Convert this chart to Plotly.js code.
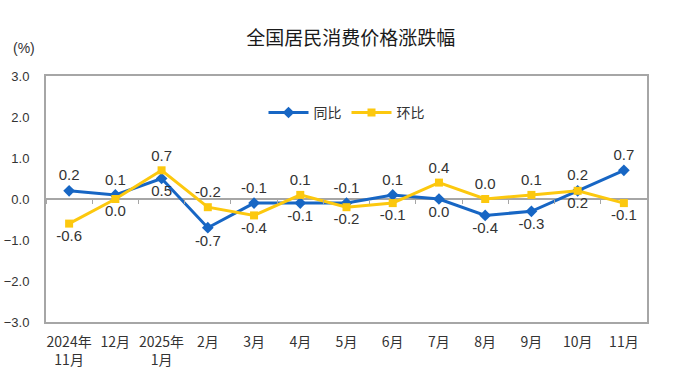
<!DOCTYPE html>
<html>
<head>
<meta charset="utf-8">
<script src="https://cdn.plot.ly/plotly-3.0.1.min.js"></script>
<style>body{margin:0;background:#fff}#chart{width:689px;height:389px}</style>
</head>
<body>
<div id="chart"></div>
<script>
const categories = ["2024年<br>11月","12月","2025年<br>1月","2月","3月","4月","5月","6月","7月","8月","9月","10月","11月"];
const yoy = [0.2, 0.1, 0.5, -0.7, -0.1, -0.1, -0.1, 0.1, 0.0, -0.4, -0.3, 0.2, 0.7];
const mom = [-0.6, 0.0, 0.7, -0.2, -0.4, 0.1, -0.2, -0.1, 0.4, 0.0, 0.1, 0.2, -0.1];
const yoyPos = ["top center","top center","bottom center","bottom center","top center","bottom center","top center","top center","bottom center","bottom center","bottom center","top center","top center"];
const momPos = ["bottom center","bottom center","top center","top center","bottom center","top center","bottom center","bottom center","top center","top center","top center","bottom center","bottom center"];
const yTicks = [-3, -2, -1, 0, 1, 2, 3];

const labelFont = {family: "Liberation Sans, Arial, sans-serif", size: 15, color: "#333"};
const traces = [
  {x: categories, y: yoy, name: "同比", type: "scatter", mode: "lines+markers+text",
   line: {color: "#1766c4", width: 3}, marker: {symbol: "diamond", size: 9, color: "#1766c4"},
   text: yoy.map(v => v.toFixed(1)), textposition: yoyPos, textfont: labelFont, cliponaxis: false},
  {x: categories, y: mom, name: "环比", type: "scatter", mode: "lines+markers+text",
   line: {color: "#fcc80e", width: 3}, marker: {symbol: "square", size: 8, color: "#fcc80e"},
   text: mom.map(v => v.toFixed(1)), textposition: momPos, textfont: labelFont, cliponaxis: false}
];
const layout = {
  width: 689, height: 389,
  margin: {l: 46, r: 42, t: 76, b: 67},
  paper_bgcolor: "#fff", plot_bgcolor: "#fff",
  title: {text: "全国居民消费价格涨跌幅", x: 0.509, xanchor: "center", y: 0.902, yanchor: "middle",
    font: {family: "Noto Sans CJK SC", size: 19, color: "#1a1a1a"}},
  showlegend: true,
  legend: {orientation: "h", x: 0.5, xanchor: "center", y: 0.85, yanchor: "middle",
    font: {family: "Noto Sans CJK SC", size: 14, color: "#333"}, bgcolor: "rgba(0,0,0,0)", itemwidth: 40},
  xaxis: {type: "category", range: [-0.5, 12.5], showgrid: false, zeroline: false,
    showline: true, linecolor: "#a6a6a6", linewidth: 2, mirror: true, ticks: "",
    ticklabelstandoff: 6,
    tickfont: {family: "Noto Sans CJK SC", size: 14, color: "#333"}, fixedrange: true},
  xaxis2: {type: "category", range: [-0.5, 12.5], overlaying: "x", anchor: "free", position: 0.5,
    matches: "x", showticklabels: false, showline: false, showgrid: false, zeroline: false,
    ticks: "outside", tickson: "boundaries", ticklen: 4, tickcolor: "#a6a6a6", side: "bottom"},
  yaxis: {range: [-3, 3], tickvals: yTicks, tickformat: ".1f", showgrid: false,
    zeroline: true, zerolinecolor: "#a6a6a6", zerolinewidth: 2,
    showline: true, linecolor: "#a6a6a6", linewidth: 2, mirror: true, ticks: "",
    ticklabelstandoff: 12,
    tickfont: {family: "Liberation Sans, Arial, sans-serif", size: 13, color: "#333"}, fixedrange: true},
  annotations: [{text: "(%)", xref: "paper", yref: "paper", x: -0.037, y: 1.114, xanchor: "center", yanchor: "middle",
    showarrow: false, font: {family: "Liberation Sans, Arial, sans-serif", size: 14, color: "#333"}}]
};
// dummy trace for boundary ticks on zero line
traces.push({x: categories, y: yoy.map(() => null), xaxis: "x2", type: "scatter", mode: "lines", showlegend: false, hoverinfo: "skip"});
Plotly.newPlot("chart", traces, layout, {displayModeBar: false, staticPlot: true});
</script>
</body>
</html>
